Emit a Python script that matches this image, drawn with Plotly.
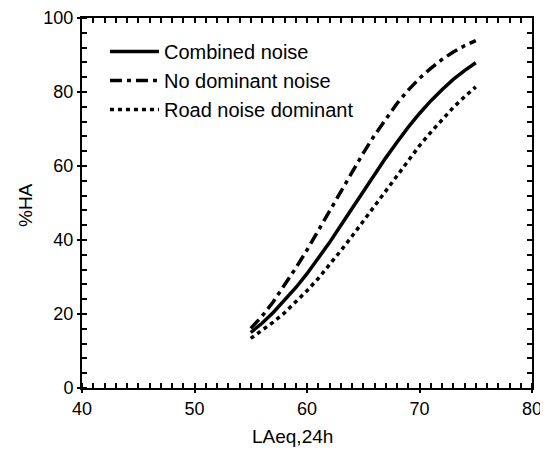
import plotly.graph_objects as go

laeq = [55, 56, 57, 58, 59, 60, 61, 62, 63, 64, 65, 66, 67, 68, 69, 70, 71, 72, 73, 74, 75]
combined = [15.0, 17.5, 20.4, 23.6, 27.1, 30.9, 35.0, 39.3, 43.9, 48.5, 53.1, 57.7, 62.2, 66.4, 70.5, 74.2, 77.6, 80.6, 83.4, 85.8, 87.9]
no_dominant = [16.1, 19.4, 23.3, 27.8, 32.4, 37.3, 42.6, 48.0, 53.3, 58.5, 63.5, 68.3, 72.8, 76.9, 80.5, 83.7, 86.4, 88.8, 90.8, 92.5, 93.9]
road_dominant = [13.4, 15.5, 17.8, 20.3, 23.2, 26.3, 29.6, 33.2, 37.1, 41.0, 45.1, 49.3, 53.4, 57.6, 61.6, 65.5, 69.1, 72.6, 75.8, 78.7, 81.4]

names = ["Combined noise", "No dominant noise", "Road noise dominant"]
x_title = "LAeq,24h"
y_title = "%HA"

FONT = "Liberation Sans, Arial, sans-serif"

fig = go.Figure()
fig.add_trace(go.Scatter(x=laeq, y=combined, mode="lines", name=names[0],
                         line=dict(color="black", width=3.5, dash="solid")))
fig.add_trace(go.Scatter(x=laeq, y=no_dominant, mode="lines", name=names[1],
                         line=dict(color="black", width=3.5, dash="12px,5px,4px,5px")))
fig.add_trace(go.Scatter(x=laeq, y=road_dominant, mode="lines", name=names[2],
                         line=dict(color="black", width=3.5, dash="4px,4px")))
# invisible trace to activate the mirrored (top / right) axes
fig.add_trace(go.Scatter(x=[laeq[0]], y=[combined[0]], xaxis="x2", yaxis="y2", mode="markers",
                         marker=dict(opacity=0), showlegend=False, hoverinfo="skip"))

base = dict(showgrid=False, zeroline=False, showline=True, linecolor="black",
            linewidth=2, automargin=False)

# the page body has an 8px margin, so the figure is offset to match the 548x454 window
fig.update_layout(
    template="none",
    width=540, height=446,
    margin=dict(l=74, r=16, t=10, b=66, pad=0),
    paper_bgcolor="white", plot_bgcolor="white",
    font=dict(family=FONT, size=19, color="black"),
    showlegend=True,
    legend=dict(x=0.051, y=0.962, xanchor="left", yanchor="top",
                bgcolor="rgba(0,0,0,0)", borderwidth=0,
                font=dict(family=FONT, size=20, color="black"),
                itemwidth=49, tracegroupgap=0),
    xaxis=dict(range=[40, 80], tickmode="linear", tick0=40, dtick=10,
               ticks="outside", ticklen=3, tickwidth=1.5, tickcolor="black",
               tickfont=dict(family=FONT, size=18, color="black"),
               minor=dict(tickmode="linear", tick0=40, dtick=1, ticks="inside",
                          ticklen=5, tickwidth=1.5, tickcolor="black", showgrid=False),
               **base),
    yaxis=dict(range=[0, 100], tickmode="linear", tick0=0, dtick=20,
               ticks="outside", ticklen=3, tickwidth=1.5, tickcolor="black",
               tickfont=dict(family=FONT, size=18, color="black"),
               minor=dict(tickmode="linear", tick0=0, dtick=4, ticks="inside",
                          ticklen=5, tickwidth=1.5, tickcolor="black", showgrid=False),
               **base),
    xaxis2=dict(range=[40, 80], overlaying="x", anchor="y", side="top",
                tickmode="linear", tick0=40, dtick=1, ticks="inside", ticklen=5,
                tickwidth=1.5, tickcolor="black", showticklabels=False, **base),
    yaxis2=dict(range=[0, 100], overlaying="y", anchor="x", side="right",
                tickmode="linear", tick0=0, dtick=4, ticks="inside", ticklen=5,
                tickwidth=1.5, tickcolor="black", showticklabels=False, **base),
)

# axis titles placed at their pixel positions (converted to paper coordinates)
plot_l, plot_r, plot_t, plot_b = 82, 532, 18, 388
def px_to_paper(px, py):
    return (px - plot_l) / (plot_r - plot_l), (plot_b - py) / (plot_b - plot_t)

xt = px_to_paper(292, 436)
yt = px_to_paper(26, 205)
fig.add_annotation(text=x_title, x=xt[0], y=xt[1], xref="paper", yref="paper",
                   xanchor="center", yanchor="middle",
                   showarrow=False, font=dict(family=FONT, size=19, color="black"))
fig.add_annotation(text=y_title, x=yt[0], y=yt[1], xref="paper", yref="paper",
                   xanchor="center", yanchor="middle",
                   showarrow=False, textangle=-90,
                   font=dict(family=FONT, size=19, color="black"))

fig.write_html("out.html")
